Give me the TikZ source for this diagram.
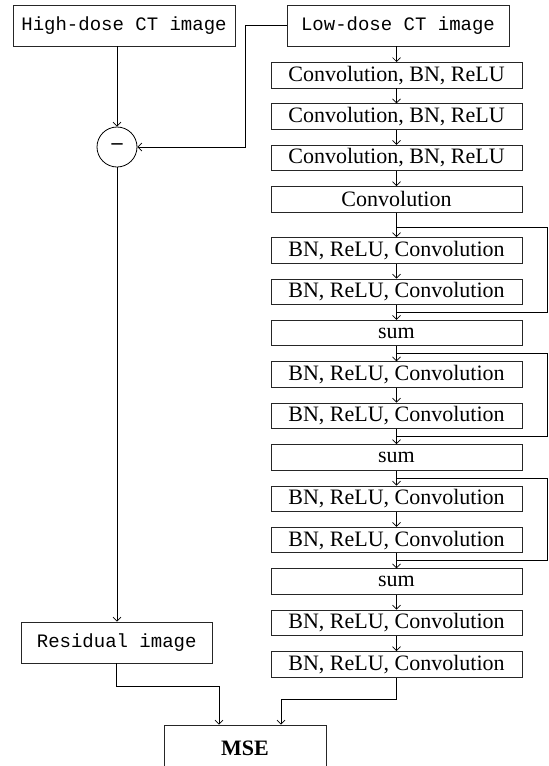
\documentclass[tikz,border=0pt]{standalone}
\usepackage{fontspec}
\setmainfont{Liberation Serif}
\setmonofont{Liberation Mono}
\usetikzlibrary{positioning,arrows.meta,calc}

\begin{document}
\begin{tikzpicture}[x=1pt,y=-1pt,>={Straight Barb[length=4pt,width=8pt]},
  io/.style={rectangle,draw=black!85,line width=0.9pt,minimum width=222pt,minimum height=41pt,inner sep=0pt,font=\ttfamily\fontsize{19}{21}\selectfont},
  blk/.style={rectangle,draw=black!85,line width=0.9pt,minimum width=251pt,minimum height=25.5pt,inner sep=0pt,font=\fontsize{22}{24}\selectfont},
  op/.style={circle,draw=black,line width=0.8pt,minimum size=40pt,inner sep=0pt,font=\bfseries\fontsize{22}{24}\selectfont},
  ar/.style={->,line width=0.7pt,black}]
\useasboundingbox (0,0) rectangle (549,766);
\node[io](hd) at (124,25.5){High-dose CT image};
\node[io](ld) at (398,25.5){Low-dose CT image};
\node[op](sub) at (117,147){--};
\node[io,minimum width=191.5pt](res) at (116.7,642.5){Residual image};
\node[blk,anchor=north](c1) at (396.5,62){Convolution, BN, ReLU};
\node[blk,below=15pt of c1](c2){Convolution, BN, ReLU};
\node[blk,below=15pt of c2](c3){Convolution, BN, ReLU};
\node[blk,below=15pt of c3](cv){Convolution};
\node[blk,below=24.5pt of cv](b1){BN, ReLU, Convolution};
\node[blk,below=15pt of b1](b2){BN, ReLU, Convolution};
\node[blk,below=15pt of b2](s1){sum};
\node[blk,below=15pt of s1](b3){BN, ReLU, Convolution};
\node[blk,below=15pt of b3](b4){BN, ReLU, Convolution};
\node[blk,below=15pt of b4](s2){sum};
\node[blk,below=15pt of s2](b5){BN, ReLU, Convolution};
\node[blk,below=15pt of b5](b6){BN, ReLU, Convolution};
\node[blk,below=15pt of b6](s3){sum};
\node[blk,below=15pt of s3](b7){BN, ReLU, Convolution};
\node[blk,below=15pt of b7](b8){BN, ReLU, Convolution};
\node[blk,minimum width=162pt,minimum height=46pt,font=\bfseries\fontsize{22}{24}\selectfont](mse) at (245,748){MSE};
% left branch
\draw[ar](hd.south -| sub)--(sub);
\draw[ar](ld.west)--++(-41,0)|-(sub);
\draw[ar](sub)--(sub |- res.north);
% main column
\draw[ar](ld.south -| c1)--(c1);
\foreach \a/\b in {c1/c2,c2/c3,c3/cv,cv/b1,b1/b2,b2/s1,s1/b3,b3/b4,b4/s2,s2/b5,b5/b6,b6/s3,s3/b7,b7/b8}
  \draw[ar](\a)--(\b);
% skip connections
\foreach \b/\c/\d/\o in {b1/b2/s1/10,b3/b4/s2/7.5,b5/b6/s3/7.5}
  \draw[line width=0.7pt]($(\b.north)+(0,-\o)$)-|($(\b.east)+(25,0)$)|-($(\c.south)!0.5!(\d.north)$);
% to loss
\draw[ar](res.south)--++(0,23)-|([xshift=-26pt]mse.north);
\draw[ar](b8.south)--++(0,22)-|([xshift=36pt]mse.north);
\end{tikzpicture}
\end{document}
